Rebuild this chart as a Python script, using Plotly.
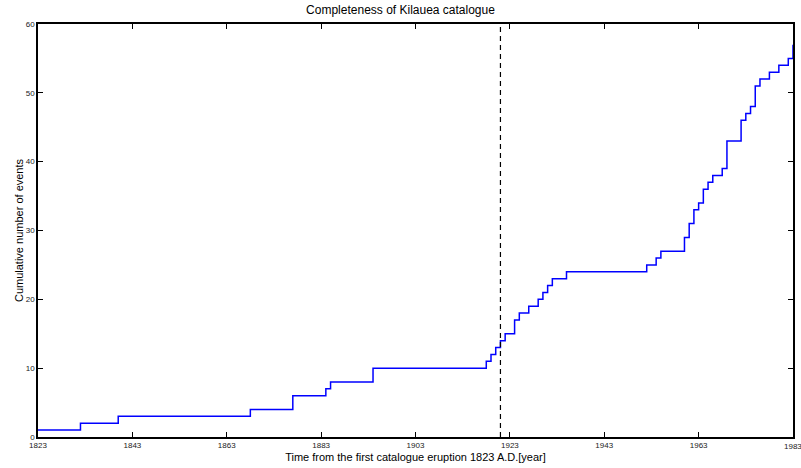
import plotly.graph_objects as go

# Step times (year) and cumulative number of events after each step
years = [1823, 1832, 1840, 1868, 1877, 1884, 1885, 1894, 1918, 1919, 1920, 1921,
         1922, 1924, 1925, 1927, 1929, 1930, 1931, 1932, 1935, 1952, 1954, 1955,
         1960, 1961, 1962, 1963, 1964, 1965, 1966, 1968, 1969, 1972, 1973, 1974,
         1975, 1976, 1978, 1980, 1982, 1983]
counts = [1, 2, 3, 4, 6, 7, 8, 10, 11, 12, 13, 14,
          15, 17, 18, 19, 20, 21, 22, 23, 24, 25, 26, 27,
          29, 31, 33, 34, 36, 37, 38, 39, 43, 46, 47, 48,
          51, 52, 53, 54, 55, 57]

completeness_year = 1921
x_ticks = [1823, 1843, 1863, 1883, 1903, 1923, 1943, 1963, 1983]
y_ticks = [0, 10, 20, 30, 40, 50, 60]

font = "Liberation Sans, Arial, Helvetica, sans-serif"

fig = go.Figure()
fig.add_trace(go.Scatter(x=years, y=counts, mode="lines", line_shape="hv",
                         line=dict(color="#0000ff", width=1.5), showlegend=False,
                         cliponaxis=True))
fig.add_trace(go.Scatter(x=[completeness_year, completeness_year], y=[0, 60], mode="lines",
                         line=dict(color="black", width=1.2, dash="5px,4px"),
                         showlegend=False))

axis_common = dict(showgrid=False, zeroline=False, showline=True, linecolor="black",
                   linewidth=1.5, mirror="ticks", ticks="inside", ticklen=5,
                   tickwidth=1, tickcolor="black",
                   tickfont=dict(family=font, size=8, color="#222"))

fig.update_layout(
    width=801, height=468,
    margin=dict(l=38, r=6, t=24, b=31),
    paper_bgcolor="white", plot_bgcolor="white",
    title=dict(text="Completeness of Kilauea catalogue", x=0.5, xanchor="center",
               y=0.978, yanchor="middle",
               font=dict(family=font, size=12, color="black")),
    xaxis=dict(range=[1823, 1983], tickvals=x_ticks, ticktext=[str(v) for v in x_ticks],
               title=dict(text="Time from the first catalogue eruption 1823 A.D.[year]",
                          font=dict(family=font, size=11, color="black"), standoff=4),
               **axis_common),
    yaxis=dict(range=[0, 60], tickvals=y_ticks,
               title=dict(text="Cumulative number of events",
                          font=dict(family=font, size=11, color="black"), standoff=0),
               **axis_common),
)

# Last tick label (partly outside the plot, as in the original)
fig.add_annotation(x=x_ticks[-1], xref="x", y=0, yref="paper", yshift=-9,
                   text=str(x_ticks[-1]), showarrow=False, xanchor="center",
                   yanchor="middle", font=dict(family=font, size=8, color="#222"))

fig.write_html("out.html")
